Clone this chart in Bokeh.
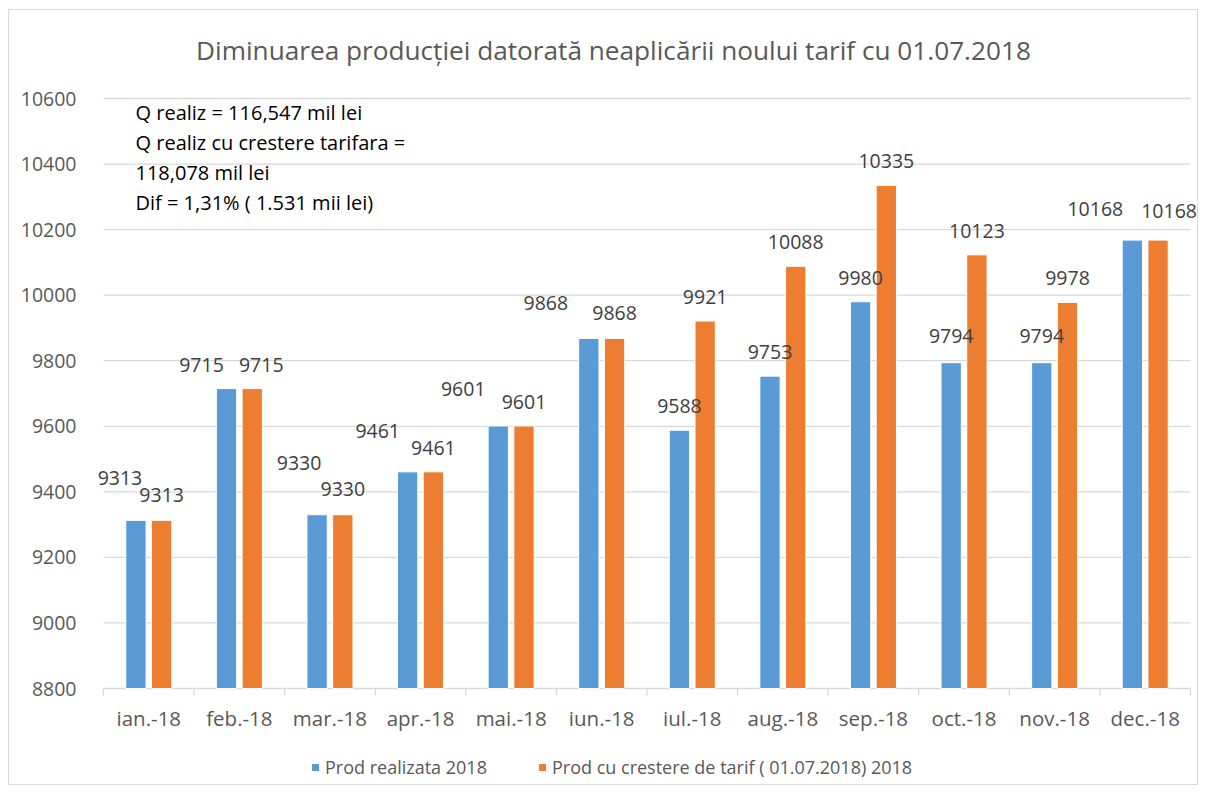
from bokeh.plotting import figure
from bokeh.models import Range1d, FixedTicker, Legend, LegendItem, Label, ColumnDataSource
from bokeh.embed import file_html
from bokeh.resources import INLINE
from bokeh.core.properties import value

# ---------------- data ----------------
months = ["ian.-18", "feb.-18", "mar.-18", "apr.-18", "mai.-18", "iun.-18",
          "iul.-18", "aug.-18", "sep.-18", "oct.-18", "nov.-18", "dec.-18"]
prod_realizata = [9313, 9715, 9330, 9461, 9601, 9868, 9588, 9753, 9980, 9794, 9794, 10168]
prod_tarif = [9313, 9715, 9330, 9461, 9601, 9868, 9921, 10088, 10335, 10123, 9978, 10168]
y_ticks = [8800, 9000, 9200, 9400, 9600, 9800, 10000, 10200, 10400, 10600]
series_names = ["Prod realizata 2018", "Prod cu crestere de tarif ( 01.07.2018) 2018"]
title_text = "Diminuarea producției datorată neaplicării noului tarif cu 01.07.2018"
note_lines = ["Q realiz = 116,547 mil lei",
              "Q realiz cu crestere tarifara =",
              "118,078 mil lei",
              "Dif = 1,31% ( 1.531 mii lei)"]

# ---------------- label placement (screen px, style only; negative = up) ----------------
blue_dx = [-16, -25, -18, -30, -35, -43, 0, 0, 0, 0, 0, -37]
blue_dy = [-42, -24, -52, -41, -37, -35, -24, -24, -24, -27, -27, -31]
orange_dx = [0, 9, 0, 0, 0, 0, 0, 0, 0, 0, 0, 11]
orange_dy = [-25, -24, -26, -24, -24, -25, -24, -24, -24, -24, -24, -29]

BLUE = "#5b9bd5"
ORANGE = "#ed7d31"
FONT = "Open Sans"
GREY = "#595959"
LINE = "#d9d9d9"

n = len(months)
centers = [i + 0.5 for i in range(n)]
off = 0.142
bw = 0.224

# layout: the frame covers the whole chart (except the y-axis labels) so that
# edge labels, title, category labels and legend are never clipped
W, H = 1190, 776
BORDER_L = 86
BELOW_PX = 98                          # space below the category axis line
cat_px = 90.58                         # pixels per category
pad_l, pad_r = 8 / cat_px, 9 / cat_px
ppu = 590 / (y_ticks[-1] - y_ticks[0])  # pixels per value unit
y_start = y_ticks[0] - BELOW_PX / ppu
y_end = y_ticks[0] + (H - BELOW_PX) / ppu

src_b = ColumnDataSource(dict(x=[c - off for c in centers], top=prod_realizata,
                              txt=[str(v) for v in prod_realizata], dx=blue_dx, dy=blue_dy))
src_o = ColumnDataSource(dict(x=[c + off for c in centers], top=prod_tarif,
                              txt=[str(v) for v in prod_tarif], dx=orange_dx, dy=orange_dy))
src_m = ColumnDataSource(dict(x=centers, y=[y_ticks[0]] * n, txt=months))

p = figure(width=W, height=H, output_backend="svg", toolbar_location=None,
           x_range=Range1d(-pad_l, n + pad_r),
           y_range=Range1d(y_start, y_end), x_axis_location=None,
           min_border_left=BORDER_L, min_border_right=0, min_border_top=0,
           min_border_bottom=0)
p.styles = {"border": "1px solid #d9d9d9", "margin-left": "8px", "margin-top": "9px"}
p.outline_line_color = None
p.background_fill_color = "white"
p.border_fill_color = "white"

# grid lines and category axis line drawn over the category area only
p.xgrid.grid_line_color = None
p.ygrid.grid_line_color = None
p.segment(x0=0, x1=n, y0=y_ticks, y1=y_ticks, line_color=LINE, line_width=1.3)
# category separator ticks below the axis line
bounds = list(range(n + 1))
p.segment(x0=bounds, x1=bounds, y0=[y_ticks[0]] * (n + 1),
          y1=[y_ticks[0] - 7 / ppu] * (n + 1), line_color=LINE, line_width=1.3)

# y axis
p.yaxis.ticker = FixedTicker(ticks=y_ticks)
p.yaxis.axis_line_color = None
p.yaxis.major_tick_line_color = None
p.yaxis.minor_tick_line_color = None
p.yaxis.major_label_standoff = 13
p.yaxis.major_label_text_font = FONT
p.yaxis.major_label_text_font_size = "19.5px"
p.yaxis.major_label_text_color = GREY

# category labels
p.text(x="x", y="y", text="txt", y_offset=29, source=src_m,
       text_font=value(FONT), text_font_size="20.5px", text_color=GREY,
       text_align="center", text_baseline="middle")

# bars
rb = p.vbar(x="x", top="top", bottom=y_ticks[0], width=bw, source=src_b,
            fill_color=BLUE, line_color="white", line_width=1)
ro = p.vbar(x="x", top="top", bottom=y_ticks[0], width=bw, source=src_o,
            fill_color=ORANGE, line_color="white", line_width=1)

# data labels
for src in (src_b, src_o):
    p.text(x="x", y="top", text="txt", x_offset="dx", y_offset="dy", source=src,
           text_font=value(FONT), text_font_size="19.5px", text_color="#404040",
           text_align="center", text_baseline="middle")

# title
p.add_layout(Label(x=n / 2, y=y_ticks[-1], x_offset=-33.5, y_offset=49, text=title_text,
                   text_font=FONT, text_font_size="26.2px", text_color=GREY,
                   text_align="center", text_baseline="middle"))

# annotation
p.add_layout(Label(x=0, y=y_ticks[-1], x_offset=32, y_offset=0, text="\n".join(note_lines),
                   text_font=FONT, text_font_size="20px", text_color="#000000",
                   text_baseline="top", text_align="left", text_line_height=1.12))

# legend (inside the frame, at the bottom of the chart)
legend = Legend(items=[LegendItem(label=series_names[0], renderers=[rb]),
                       LegendItem(label=series_names[1], renderers=[ro])],
                orientation="horizontal", location=(215, 7),
                label_text_font=FONT, label_text_font_size="18px", label_text_color=GREY,
                glyph_width=10, glyph_height=10, spacing=50, label_standoff=5,
                border_line_color=None, background_fill_alpha=0, padding=0, margin=0)
p.add_layout(legend, "center")

open("out.html", "w").write(file_html(p, INLINE))
